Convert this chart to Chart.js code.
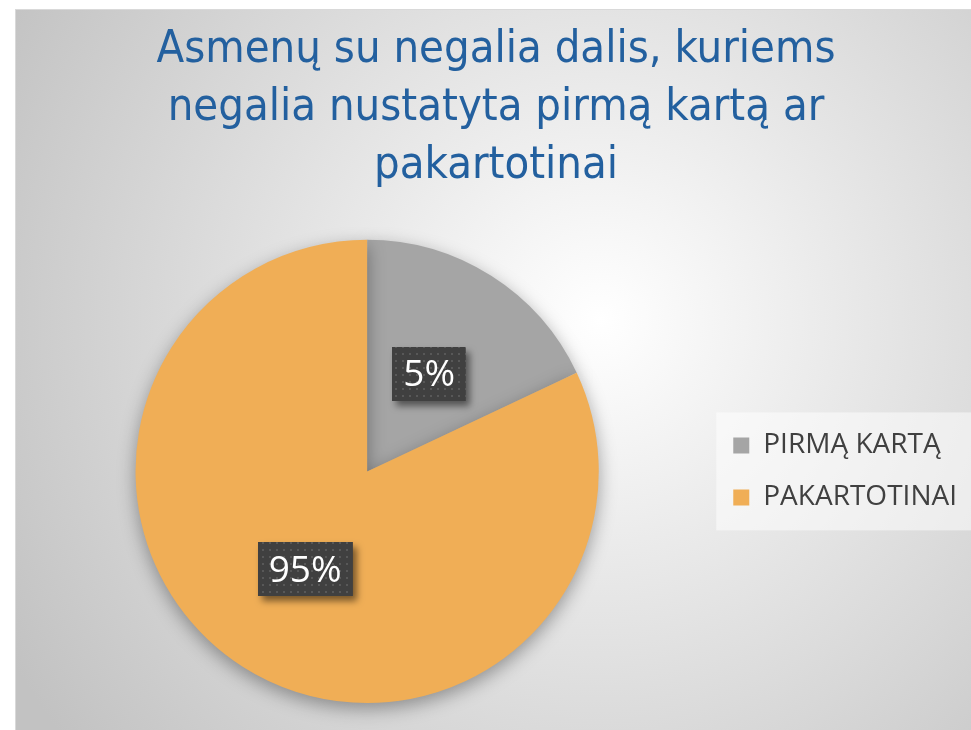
<!DOCTYPE html>
<html lang="lt">
<head>
<meta charset="utf-8">
<title>Asmenų su negalia dalis</title>
<script src="https://cdn.jsdelivr.net/npm/chart.js@4.4.1/dist/chart.umd.min.js"></script>
<style>
  html, body { margin: 0; padding: 0; background: #fff; overflow: hidden; }
  canvas { display: block; }
</style>
</head>
<body>
<canvas id="pieChart" width="971" height="730"></canvas>
<script>
const categories = ["PIRMĄ KARTĄ", "PAKARTOTINAI"];
// slice sizes as drawn in the picture; the labels printed on them say 5% / 95%
const sliceShares = [18, 82];
const labelTexts = ["5%", "95%"];
const sliceColors = ["#a5a5a5", "#f0ae56"];
const titleLines = [
  "Asmenų su negalia dalis, kuriems",
  "negalia nustatyta pirmą kartą ar",
  "pakartotinai"
];

document.addEventListener("DOMContentLoaded", function () {
  // dotted fill for the label boxes
  const dots = document.createElement("canvas");
  dots.width = 7;
  dots.height = 7;
  const dctx = dots.getContext("2d");
  dctx.fillStyle = "#404040";
  dctx.fillRect(0, 0, 7, 7);
  dctx.fillStyle = "#585858";
  dctx.fillRect(3, 3, 2, 2);

  const backgroundPlugin = {
    id: "frameBackground",
    beforeDraw(chart) {
      const ctx = chart.ctx;
      ctx.save();
      ctx.fillStyle = "#ffffff";
      ctx.fillRect(0, 0, chart.width, chart.height);
      const g = ctx.createRadialGradient(600, 320, 0, 600, 320, 680);
      g.addColorStop(0, "#ffffff");
      g.addColorStop(1, "#c2c2c2");
      ctx.fillStyle = g;
      ctx.fillRect(15, 10, chart.width - 15, chart.height - 10);
      ctx.strokeStyle = "#d9d9d9";
      ctx.lineWidth = 1;
      ctx.strokeRect(15.5, 9.5, chart.width, chart.height);

      // lighter panel behind the legend
      const boxes = chart.legend && chart.legend.legendHitBoxes;
      if (boxes && boxes.length) {
        const first = boxes[0];
        const last = boxes[boxes.length - 1];
        ctx.fillStyle = "rgba(255, 255, 255, 0.5)";
        ctx.fillRect(first.left - 17, first.top - 19, chart.width, last.top + last.height - first.top + 38);
      }
      ctx.restore();
    }
  };

  const shadowPlugin = {
    id: "pieShadow",
    beforeDatasetsDraw(chart) {
      const ctx = chart.ctx;
      ctx.save();
      ctx.shadowColor = "rgba(0, 0, 0, 0.35)";
      ctx.shadowBlur = 18;
      ctx.shadowOffsetX = 0;
      ctx.shadowOffsetY = 6;
    },
    afterDatasetsDraw(chart) {
      const ctx = chart.ctx;
      ctx.restore();

      const pattern = ctx.createPattern(dots, "repeat");
      const meta = chart.getDatasetMeta(0);
      ctx.save();
      ctx.font = "37px 'Open Sans', 'Noto Sans', sans-serif";
      meta.data.forEach(function (arc, i) {
        const pos = arc.tooltipPosition();
        const text = labelTexts[i];
        const w = ctx.measureText(text).width + 22;
        const h = 54;
        const x = Math.round(pos.x - w / 2);
        const y = Math.round(pos.y - h / 2);

        ctx.save();
        ctx.shadowColor = "rgba(0, 0, 0, 0.5)";
        ctx.shadowBlur = 7;
        ctx.shadowOffsetX = 4;
        ctx.shadowOffsetY = 5;
        ctx.fillStyle = pattern;
        ctx.fillRect(x, y, w, h);
        ctx.restore();

        ctx.fillStyle = "#ffffff";
        ctx.textAlign = "center";
        ctx.textBaseline = "middle";
        ctx.fillText(text, pos.x, pos.y + 2);
      });
      ctx.restore();
    }
  };

  const ctx = document.getElementById("pieChart").getContext("2d");

  new Chart(ctx, {
    type: "pie",
    data: {
      labels: categories,
      datasets: [
        {
          data: sliceShares,
          backgroundColor: sliceColors,
          borderWidth: 0,
          hoverOffset: 0
        }
      ]
    },
    options: {
      responsive: false,
      animation: false,
      layout: {
        padding: { left: 25, right: 4, top: 0, bottom: 27 }
      },
      plugins: {
        title: {
          display: true,
          text: titleLines,
          color: "#23609f",
          font: {
            family: "'Liberation Sans Narrow', 'DejaVu Sans Condensed', sans-serif",
            size: 45,
            weight: "normal",
            lineHeight: 1.28
          },
          padding: { top: 22, bottom: 45 }
        },
        legend: {
          position: "right",
          fullSize: false,
          labels: {
            boxWidth: 16,
            boxHeight: 16,
            padding: 24,
            color: "#404040",
            font: {
              family: "'Open Sans', 'Noto Sans', sans-serif",
              size: 28
            }
          }
        },
        tooltip: { enabled: false }
      }
    },
    plugins: [backgroundPlugin, shadowPlugin]
  });
});
</script>
</body>
</html>
